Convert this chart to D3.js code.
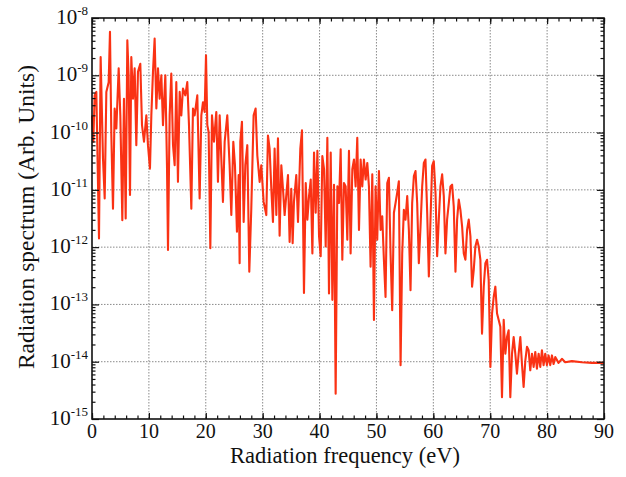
<!DOCTYPE html>
<html>
<head>
<meta charset="utf-8">
<script src="https://cdn.jsdelivr.net/npm/d3@7"></script>
<style>
  html, body { margin: 0; padding: 0; background: #fff; }
  svg { display: block; }
</style>
</head>
<body>
<svg id="chart" width="626" height="477"></svg>
<script>
// ---- data ----
const energyEV = [
  0.0, 0.23, 0.47, 0.76, 1.23, 1.52, 1.93, 2.23, 2.52, 2.93, 3.16, 3.40, 3.69, 3.98, 4.28, 4.69, 4.98,
  5.33, 5.62, 5.92, 6.21, 6.44, 6.68, 6.91, 7.21, 7.50, 7.79, 8.08, 8.49, 8.79, 9.14, 9.55, 9.84,
  10.19, 10.43, 10.72, 11.01, 11.31, 11.60, 11.89, 12.19, 12.48, 12.89, 13.18, 13.36, 13.65, 13.94,
  14.24, 14.53, 14.82, 15.11, 15.41, 15.70, 15.99, 16.40, 16.75, 17.05, 17.46, 17.75, 18.04, 18.51,
  18.92, 19.22, 19.51, 19.80, 20.04, 20.27, 20.50, 20.80, 21.09, 21.44, 21.85, 22.14, 22.44, 22.73,
  23.02, 23.32, 23.78, 24.19, 24.49, 24.84, 25.13, 25.48, 25.78, 25.95, 26.07, 26.36, 26.66, 26.95,
  27.30, 27.65, 28.00, 28.41, 28.76, 29.06, 29.47, 29.76, 30.17, 30.64, 30.93, 31.22, 31.52, 31.81,
  32.10, 32.40, 32.69, 32.98, 33.28, 33.57, 33.86, 34.45, 34.74, 35.03, 35.27, 35.50, 35.91, 36.21,
  36.62, 36.91, 37.26, 37.57, 37.86, 38.15, 38.45, 38.74, 39.03, 39.32, 39.62, 39.91, 40.20, 40.49,
  40.79, 41.08, 41.37, 41.66, 41.96, 42.25, 42.54, 42.83, 43.13, 43.42, 43.71, 44.00, 44.29, 44.59,
  44.88, 45.17, 45.46, 45.76, 46.05, 46.34, 46.63, 46.93, 47.22, 47.51, 47.80, 48.10, 48.39, 48.68,
  48.97, 49.27, 49.56, 49.85, 50.14, 50.44, 50.73, 51.02, 51.31, 51.60, 51.90, 52.19, 52.48, 52.77,
  53.07, 53.36, 53.65, 53.94, 54.24, 54.53, 54.82, 55.11, 55.41, 55.70, 55.99, 56.28, 56.58, 56.87,
  57.16, 57.45, 57.75, 58.04, 58.33, 58.62, 58.92, 59.21, 59.50, 59.79, 60.08, 60.38, 60.67, 60.96,
  61.25, 61.55, 61.84, 62.13, 62.42, 62.72, 63.01, 63.30, 63.59, 63.89, 64.18, 64.47, 64.76, 65.06,
  65.35, 65.64, 65.93, 66.22, 66.52, 66.81, 67.10, 67.39, 67.69, 67.98, 68.27, 68.56, 68.86, 69.15,
  69.44, 69.73, 70.03, 70.32, 70.61, 70.90, 71.20, 71.49, 71.78, 72.07, 72.37, 72.66, 72.95, 73.24,
  73.53, 73.83, 74.12, 74.41, 74.70, 75.00, 75.29, 75.58, 75.87, 76.17, 76.46, 76.75, 77.04, 77.34,
  77.63, 77.92, 78.21, 78.51, 78.80, 79.09, 79.38, 79.67, 79.97, 80.26, 80.55, 80.85, 81.14, 81.43,
  82.01, 82.60, 83.18, 84.35, 86.11, 87.86, 90.0
];
// log10 of the radiation spectrum (arb. units) at each energy
const spectrumLog10 = [
  -9.70, -10.16, -9.35, -9.29, -11.85, -8.68, -10.45, -11.15, -9.29, -9.12, -8.24, -10.05, -11.33, -9.58, -9.93, -8.88, -9.70,
  -11.53, -9.41, -11.50, -8.39, -9.00, -11.09, -8.68, -9.41, -8.88, -10.22, -8.94, -8.80, -9.87, -10.16, -9.70, -10.22,
  -10.63, -9.70, -8.94, -8.36, -9.58, -8.88, -9.41, -9.00, -9.87, -9.00, -10.57, -12.05, -9.70, -8.97,
  -10.22, -10.57, -9.12, -10.86, -9.29, -9.70, -9.23, -9.35, -9.12, -9.87, -11.33, -9.58, -9.70, -9.35,
  -11.15, -9.70, -9.47, -9.64, -8.65, -9.87, -9.99, -12.02, -9.70, -10.16, -9.64, -10.86, -9.70, -10.45,
  -11.21, -10.16, -9.70, -10.57, -11.44, -10.16, -10.57, -11.73, -10.74, -12.28, -10.16, -9.81, -11.56, -10.57,
  -10.22, -12.43, -11.33, -9.70, -9.58, -10.40, -10.86, -10.57, -11.21, -11.44, -10.05, -10.28, -10.98, -11.56,
  -10.28, -11.44, -10.10, -11.80, -10.57, -10.98, -11.44, -10.74, -11.91, -10.98, -11.93, -11.21, -10.74, -11.56,
  -10.28, -9.96, -12.80, -10.88, -11.52, -11.11, -10.82, -12.11, -10.35, -11.40, -10.32, -11.81, -12.16, -10.41,
  -10.64, -11.99, -10.09, -12.81, -10.35, -12.92, -10.91, -14.56, -10.94, -11.23, -10.29, -12.22, -10.88, -10.94,
  -11.87, -10.32, -12.11, -10.64, -10.47, -10.94, -10.09, -11.70, -10.47, -10.94, -10.47, -10.82, -10.53, -10.94,
  -12.34, -10.73, -13.27, -10.94, -11.87, -10.67, -11.70, -11.46, -12.22, -12.87, -10.88, -10.79, -12.11, -13.10,
  -11.40, -11.23, -11.05, -10.85, -14.06, -12.11, -11.35, -11.52, -11.11, -11.70, -12.75, -11.23, -10.76, -10.67,
  -11.23, -12.28, -11.64, -10.94, -10.53, -10.47, -11.40, -12.51, -11.52, -10.58, -10.50, -11.05, -12.16, -11.52,
  -10.94, -10.73, -11.11, -12.11, -11.52, -11.23, -10.94, -10.91, -11.29, -12.43, -11.52, -11.17, -11.35, -11.64,
  -12.11, -12.22, -11.70, -11.52, -11.81, -12.69, -12.40, -11.99, -11.87, -11.99, -12.22, -13.51, -12.69, -12.28,
  -12.22, -12.57, -14.09, -13.16, -12.87, -12.69, -13.16, -13.27, -13.39, -14.62, -13.27, -13.86, -13.57, -13.45,
  -14.62, -13.86, -13.57, -13.86, -14.21, -13.86, -13.57, -14.04, -14.44, -13.98, -13.74, -13.80, -14.15, -13.86,
  -14.09, -13.83, -14.12, -13.86, -14.09, -13.80, -14.06, -13.86, -14.06, -13.89, -14.06, -13.89, -14.04, -13.92,
  -14.02, -13.95, -14.01, -13.99, -14.01, -14.02, -14.02
];
const xTicks = [0, 10, 20, 30, 40, 50, 60, 70, 80, 90];
const yTickExponents = [-8, -9, -10, -11, -12, -13, -14, -15];
const xTitle = "Radiation frequency (eV)";
const yTitle = "Radiation spectrum (Arb. Units)";

// ---- layout ----
const FONT = '"Liberation Serif"';
const svg = d3.select("#chart");
const L = 92, R = 604, T = 18, B = 419;
const x = d3.scaleLinear().domain([0, 90]).range([L, R]);
const y = d3.scaleLog().domain([1e-15, 1e-8]).range([B, T]);

const points = energyEV.map((e, i) => ({ e, v: Math.pow(10, spectrumLog10[i]) }));

// grid
const grid = svg.append("g").attr("stroke", "#777").attr("stroke-width", 1)
  .attr("stroke-dasharray", "1.5,1.5").attr("opacity", 0.85);
xTicks.slice(1, -1).forEach(t => {
  grid.append("line").attr("x1", x(t)).attr("x2", x(t)).attr("y1", T).attr("y2", B);
});
yTickExponents.slice(1, -1).forEach(p => {
  grid.append("line").attr("x1", L).attr("x2", R).attr("y1", y(Math.pow(10, p))).attr("y2", y(Math.pow(10, p)));
});

// data line
svg.append("path")
  .datum(points)
  .attr("fill", "none")
  .attr("stroke", "#fa3214")
  .attr("stroke-width", 2.1)
  .attr("stroke-linejoin", "round")
  .attr("d", d3.line().x(d => x(d.e)).y(d => y(d.v)));

// axes with inward ticks (major + minor)
const xMinor = d3.range(0, 90.01, 2);
const yMinor = [];
for (let p = -15; p < -8; p++) for (let m = 2; m <= 9; m++) yMinor.push(m * Math.pow(10, p));

function addAxis(axisGen, transform) {
  const g = svg.append("g").attr("transform", transform).call(axisGen);
  g.selectAll("path.domain").remove();
  g.selectAll("text").remove();
  g.selectAll("line").attr("stroke", "#111").attr("stroke-width", 1.2);
  return g;
}
addAxis(d3.axisBottom(x).tickValues(xTicks).tickSize(-6), `translate(0,${B})`);
addAxis(d3.axisBottom(x).tickValues(xMinor).tickSize(-3.5), `translate(0,${B})`);
addAxis(d3.axisTop(x).tickValues(xTicks).tickSize(-6), `translate(0,${T})`);
addAxis(d3.axisTop(x).tickValues(xMinor).tickSize(-3.5), `translate(0,${T})`);
addAxis(d3.axisLeft(y).tickValues(yTickExponents.map(p => Math.pow(10, p))).tickSize(-7), `translate(${L},0)`);
addAxis(d3.axisLeft(y).tickValues(yMinor).tickSize(-3.5), `translate(${L},0)`);
addAxis(d3.axisRight(y).tickValues(yTickExponents.map(p => Math.pow(10, p))).tickSize(-7), `translate(${R},0)`);
addAxis(d3.axisRight(y).tickValues(yMinor).tickSize(-3.5), `translate(${R},0)`);

// frame
svg.append("rect").attr("x", L).attr("y", T).attr("width", R - L).attr("height", B - T)
  .attr("fill", "none").attr("stroke", "#111").attr("stroke-width", 1.6);

// x tick labels
svg.append("g").selectAll("text").data(xTicks).join("text")
  .style("font-family", FONT).attr("fill", "#111")
  .attr("x", d => x(d)).attr("y", B + 19)
  .attr("text-anchor", "middle").attr("font-size", 20)
  .text(d => d);

// y tick labels: 10^p
const yl = svg.append("g").selectAll("text").data(yTickExponents).join("text")
  .style("font-family", FONT).attr("fill", "#111")
  .attr("x", L - 4).attr("y", d => y(Math.pow(10, d)) + 6)
  .attr("text-anchor", "end").attr("font-size", 21);
yl.append("tspan").text("10");
yl.append("tspan").attr("dy", -9).attr("font-size", 13).text(d => d);

// axis titles
svg.append("text").style("font-family", FONT).attr("fill", "#111")
  .attr("x", 345).attr("y", 463).attr("text-anchor", "middle")
  .attr("font-size", 22.5).text(xTitle);
svg.append("text").style("font-family", FONT).attr("fill", "#111")
  .attr("transform", "translate(34,217) rotate(-90)")
  .attr("text-anchor", "middle").attr("font-size", 23.5).text(yTitle);
</script>
</body>
</html>
